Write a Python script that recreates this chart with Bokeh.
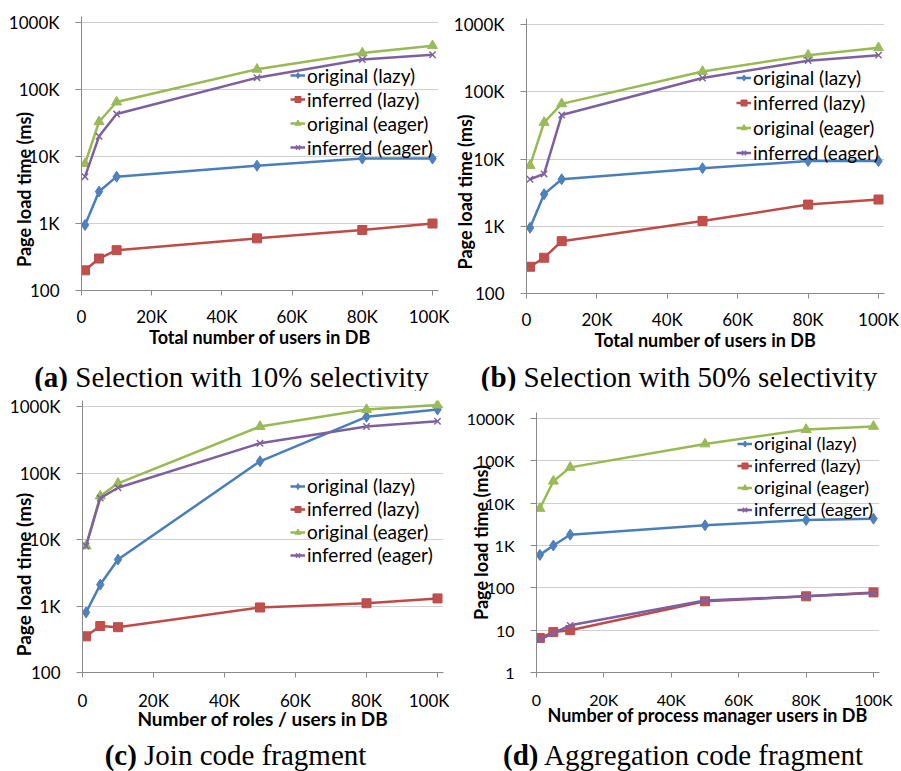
import math
from bokeh.plotting import figure
from bokeh.models import Range1d, FixedTicker, CustomJSTickFormatter, Div
from bokeh.layouts import row, column
from bokeh.embed import file_html
from bokeh.resources import INLINE

# ---------------- data ----------------
x_users = [1000, 5000, 10000, 50000, 80000, 100000]
series_names = ["original (lazy)", "inferred (lazy)", "original (eager)", "inferred (eager)"]

a_original_lazy = [950, 3000, 5000, 7300, 9300, 9300]
a_inferred_lazy = [200, 300, 400, 600, 800, 1000]
a_original_eager = [7800, 33000, 65000, 200000, 350000, 450000]
a_inferred_eager = [5000, 20000, 43000, 150000, 280000, 330000]

b_original_lazy = [950, 3000, 5000, 7300, 9300, 9300]
b_inferred_lazy = [250, 340, 600, 1200, 2100, 2500]
b_original_eager = [8000, 35000, 66000, 200000, 350000, 450000]
b_inferred_eager = [5000, 6000, 45000, 160000, 290000, 350000]

c_original_lazy = [800, 2100, 5000, 150000, 700000, 900000]
c_inferred_lazy = [350, 500, 480, 950, 1100, 1300]
c_original_eager = [8000, 45000, 70000, 500000, 900000, 1050000]
c_inferred_eager = [8000, 42000, 60000, 280000, 500000, 600000]

d_original_lazy = [600, 1000, 1800, 3000, 4000, 4300]
d_inferred_lazy = [6.5, 9, 10, 48, 63, 78]
d_original_eager = [7500, 33000, 70000, 250000, 550000, 650000]
d_inferred_eager = [6, 8.5, 13, 50, 63, 75]

x_ticks = [0, 20000, 40000, 60000, 80000, 100000]
y_ticks_abc = [100, 1000, 10000, 100000, 1000000]
y_ticks_d = [1, 10, 100, 1000, 10000, 100000, 1000000]

y_title = "Page load time (ms)"
x_title_a = "Total number of users in DB"
x_title_b = "Total number of users in DB"
x_title_c = "Number of roles / users in DB"
x_title_d = "Number of process manager users in DB"

caption_tags = ["(a)", "(b)", "(c)", "(d)"]
caption_texts = ["Selection with 10% selectivity", "Selection with 50% selectivity",
                 "Join code fragment", "Aggregation code fragment"]

# ---------------- styles ----------------
STYLES = [
    dict(line="#4A7EBB", fill="#4F81BD", marker="diamond", size=11),
    dict(line="#BE4B48", fill="#C0504D", marker="square", size=9),
    dict(line="#98B954", fill="#9BBB59", marker="triangle", size=10),
    dict(line="#7D60A0", fill="#8064A2", marker="x", size=9),
]
SANS = "Lato"
EXT = 6

fmt = CustomJSTickFormatter(code="""
const v = Math.round(tick);
return v >= 1000 ? (v / 1000) + "K" : String(v);
""")


def make_panel(series, x_title, y_ticks, g):
    ox, oy, W, H = g["box"]
    x0, x1, yt, yb = g["x0"], g["x1"], g["yt"], g["yb"]
    span_w, span_h = x1 - x0, yb - yt
    ymin, ymax = y_ticks[0], y_ticks[-1]
    dec = math.log10(ymax / ymin)
    x_end = x_ticks[-1] * (span_w + EXT) / span_w
    y_end = 10 ** (math.log10(ymax) + EXT * dec / span_h)
    fw, fh = span_w + EXT, span_h + EXT
    left = x0 - ox
    top = yt - oy - EXT
    right = W - left - fw
    bottom = H - top - fh
    p = figure(frame_width=fw, frame_height=fh,
               min_border_left=left, min_border_right=right,
               min_border_top=top, min_border_bottom=bottom,
               x_range=Range1d(0, x_end), y_range=Range1d(ymin, y_end),
               y_axis_type="log", output_backend="svg", toolbar_location=None)
    p.outline_line_color = None
    p.background_fill_color = "white"
    p.border_fill_color = "white"
    p.xgrid.visible = False
    p.ygrid.grid_line_color = "#cfcfcf"
    p.ygrid.grid_line_width = 1

    p.xaxis.ticker = FixedTicker(ticks=x_ticks)
    p.yaxis.ticker = FixedTicker(ticks=y_ticks)
    for ax in (p.xaxis[0], p.yaxis[0]):
        ax.formatter = fmt
        ax.axis_line_color = "#8a8a8a"
        ax.major_tick_line_color = "#8a8a8a"
        ax.minor_tick_line_color = None
        ax.major_tick_in = 0
        ax.minor_tick_in = 0
        ax.minor_tick_out = 0
        ax.major_label_text_font = SANS
        ax.major_label_text_font_size = g["tick_fs"]
        ax.major_label_text_color = "black"
        ax.axis_label_text_font = SANS
        ax.axis_label_text_font_style = "bold"
        ax.axis_label_text_font_size = g["title_fs"]
        ax.axis_label_text_color = "black"
    p.xaxis.major_tick_out = 5
    p.yaxis.major_tick_out = 6
    p.xaxis.major_label_standoff = g["xl_stand"]
    p.yaxis.major_label_standoff = 16
    p.xaxis.axis_label = x_title
    p.xaxis.axis_label_standoff = g["xt_stand"]
    # trailing en-spaces move the visible title down along the axis
    p.yaxis.axis_label = y_title + "\u2002" * g["yt_pad"]
    p.yaxis.axis_label_standoff = g["yt_stand"]

    for name, ys, st in zip(series_names, series, STYLES):
        p.line(x_users, ys, line_color=st["line"], line_width=2.5, legend_label=name)
        if st["marker"] == "x":
            p.scatter(x_users, ys, marker="x", size=st["size"], line_color=st["fill"],
                      line_width=1.5, legend_label=name)
        else:
            p.scatter(x_users, ys, marker=st["marker"], size=st["size"], fill_color=st["fill"],
                      line_color=st["line"], line_width=1, legend_label=name)

    lg = p.legend[0]
    lg.location = g["legend_loc"]
    lg.label_text_font = SANS
    lg.label_text_font_size = g["legend_fs"]
    lg.label_text_color = "black"
    lg.label_height = g["legend_rh"]
    lg.glyph_height = g["legend_rh"]
    lg.glyph_width = 15
    lg.label_standoff = 2
    lg.padding = 0
    lg.spacing = 0
    lg.margin = 0
    lg.border_line_color = None
    lg.background_fill_alpha = 0
    return p


def make_caption(tag, text, W, h, dx, dy):
    html = ('<div style="width:%dpx;height:%dpx;font-family:\'Liberation Serif\',serif;'
            'font-size:29px;line-height:%dpx;text-align:center;white-space:nowrap;'
            'position:relative;left:%dpx;top:%dpx;color:black;">'
            '<b>%s</b> %s</div>') % (W, h, h, dx, dy, tag, text)
    return Div(text=html, width=W, height=h, margin=(0, 0, 0, 0))


geo_a = dict(box=(0, 0, 449, 360), x0=81, x1=432, yt=22, yb=290,
             tick_fs="17px", title_fs="18px", legend_fs="19px", legend_rh=24,
             legend_loc=(209, 131), xl_stand=10, xt_stand=-4, yt_stand=-29, yt_pad=8)
geo_b = dict(box=(449, 0, 452, 360), x0=526, x1=878, yt=24, yb=293,
             tick_fs="17px", title_fs="18px", legend_fs="19px", legend_rh=25,
             legend_loc=(210, 128), xl_stand=10, xt_stand=-4, yt_stand=-25, yt_pad=8)
geo_c = dict(box=(0, 390, 449, 350), x0=82, x1=437, yt=406, yb=672,
             tick_fs="17px", title_fs="19px", legend_fs="19px", legend_rh=22,
             legend_loc=(208, 106), xl_stand=12, xt_stand=-7, yt_stand=-28, yt_pad=8)
geo_d = dict(box=(449, 390, 452, 350), x0=536, x1=873, yt=418, yb=672,
             tick_fs="16px", title_fs="18px", legend_fs="18px", legend_rh=21,
             legend_loc=(201, 152), xl_stand=12, xt_stand=-8, yt_stand=-28, yt_pad=0)

pa = make_panel([a_original_lazy, a_inferred_lazy, a_original_eager, a_inferred_eager],
                x_title_a, y_ticks_abc, geo_a)
pb = make_panel([b_original_lazy, b_inferred_lazy, b_original_eager, b_inferred_eager],
                x_title_b, y_ticks_abc, geo_b)
pc = make_panel([c_original_lazy, c_inferred_lazy, c_original_eager, c_inferred_eager],
                x_title_c, y_ticks_abc, geo_c)
pd_ = make_panel([d_original_lazy, d_inferred_lazy, d_original_eager, d_inferred_eager],
                 x_title_d, y_ticks_d, geo_d)

ca = make_caption(caption_tags[0], caption_texts[0], 449, 30, 7, 2)
cb = make_caption(caption_tags[1], caption_texts[1], 452, 30, 4, 2)
cc = make_caption(caption_tags[2], caption_texts[2], 449, 31, 11, 0)
cd = make_caption(caption_tags[3], caption_texts[3], 452, 31, 8, 0)

layout = column(row(column(pa, ca), column(pb, cb)),
                row(column(pc, cc), column(pd_, cd)))

open("out.html", "w").write(file_html(layout, INLINE, title="chart"))
